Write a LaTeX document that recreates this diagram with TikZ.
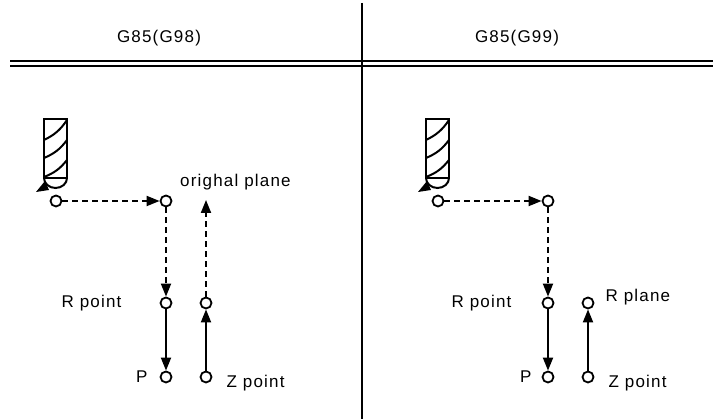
\documentclass[tikz,border=0pt]{standalone}
\usepackage{fontspec}
\setmainfont{Liberation Sans}[LetterSpace=7]
\usetikzlibrary{arrows.meta,positioning}
\tikzset{
  pt/.style    = {circle, draw, line width=1.8pt, inner sep=0pt,
                  minimum size=11pt, fill=white},
  lbl/.style   = {inner sep=0pt, font=\fontsize{17}{20}\selectfont},
  sline/.style = {line width=1.9pt},
  dline/.style = {line width=1.9pt, dash pattern=on 6pt off 4pt}
}

\begin{document}
\begin{tikzpicture}[x=1pt, y=-1pt,
  >={Triangle[length=13pt,width=10pt]}]

\useasboundingbox (0,0) rectangle (713,419);

% table head
\draw[line width=1.6pt] (362,3) -- (362,419);
\draw[line width=2.6pt] (10,61) -- (713,61);
\draw[line width=1.3pt] (10,66) -- (713,66);
\node[lbl] (h1) at (159,38) {G85(G98)};
\node[lbl] (h2) at (517,38) {G85(G99)};

% the tools
\foreach \dx in {0,382} {
  \begin{scope}[xshift=\dx pt, line width=2pt]
    \draw (44,119) rectangle (67,178);
    \draw (44,178) arc[start angle=180, end angle=360,
                       x radius=11.5pt, y radius=10pt];
    \draw (44,140) to[bend right=15] (67,120);
    \draw (44,158) to[bend right=15] (67,140);
    \draw (44,177) to[bend right=15] (67,160);
    \fill (36,192) -- (45,181) -- (49,190) -- cycle;
  \end{scope}
}

% left side, G98
\node[pt] (s1) at (56,201) {};
\node[pt] (a1) at (166,201) {};
\node[pt] (r1) at (166,303) {};
\node[pt] (p1) at (166,377) {};
\node[pt] (q1) at (206,303) {};
\node[pt] (z1) at (206,377) {};
\coordinate (o1) at (206,200);

% right side, G99
\node[pt] (s2) at (438,201) {};
\node[pt] (a2) at (548,201) {};
\node[pt] (r2) at (548,303) {};
\node[pt] (p2) at (548,377) {};
\node[pt] (q2) at (588,303) {};
\node[pt] (z2) at (588,377) {};

% labels
\node[lbl, anchor=west] (orig) at (180,182) {orighal plane};
\node[lbl, left=38pt of r1] (rp1) {R point};
\node[lbl, left=12pt of p1] (pl1) {P};
\node[lbl, right=14pt of z1, yshift=-6pt] (zp1) {Z point};

\node[lbl, left=30pt of r2] (rp2) {R point};
\node[lbl, left=10pt of p2] (pl2) {P};
\node[lbl, right=11pt of q2, yshift=6pt] (rpl2) {R plane};
\node[lbl, right=14pt of z2, yshift=-6pt] (zp2) {Z point};

\foreach \i in {1,2} {
  \draw[dline,->] (s\i) -- (a\i);
  \draw[dline,->] (a\i) -- (r\i);
  \draw[sline,->] (r\i) -- (p\i);
  \draw[sline,->] (z\i) -- (q\i);
}
\draw[dline,->] (q1) -- (o1);
\end{tikzpicture}
\end{document}
